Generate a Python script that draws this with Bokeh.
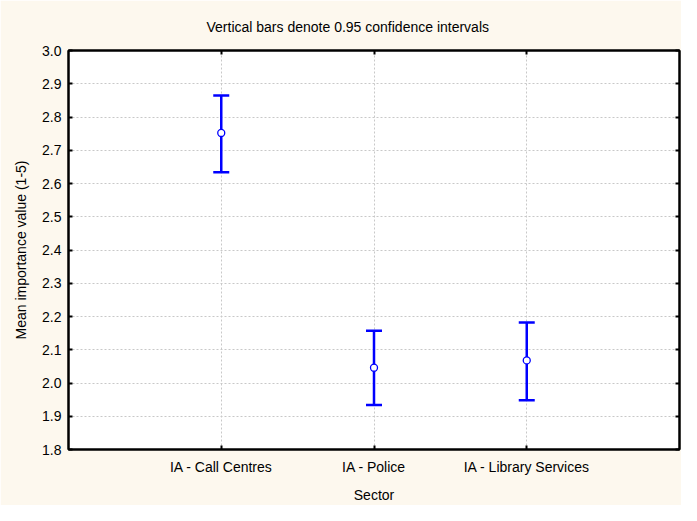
from bokeh.plotting import figure
from bokeh.models import (ColumnDataSource, Whisker, TeeHead, FixedTicker, LinearAxis,
                          Range1d, NumeralTickFormatter)
from bokeh.embed import file_html
from bokeh.resources import INLINE

# ---- data ----
sectors = ["IA - Call Centres", "IA - Police", "IA - Library Services"]
means = [2.752, 2.046, 2.068]
upper = [2.865, 2.157, 2.182]
lower = [2.634, 1.934, 1.948]
y_ticks = [1.8, 1.9, 2.0, 2.1, 2.2, 2.3, 2.4, 2.5, 2.6, 2.7, 2.8, 2.9, 3.0]
title_text = "Vertical bars denote 0.95 confidence intervals"

xpos = list(range(1, len(sectors) + 1))
src = ColumnDataSource(dict(x=xpos, mean=means, upper=upper, lower=lower))

FONT = "Liberation Sans"
FS = "14px"
BG = "#FDF8EE"
BLUE = "#0000FF"

W, H = 681, 505
BL, BR, BT, BB = 68, 2, 50, 51

p = figure(width=W, height=H, output_backend="svg", toolbar_location=None,
           x_range=Range1d(0, len(sectors) + 1), y_range=Range1d(y_ticks[0], y_ticks[-1]),
           min_border_left=BL, min_border_right=BR, min_border_top=BT, min_border_bottom=BB,
           background_fill_color="white", border_fill_color=BG,
           title=title_text)

p.title.text_font = FONT
p.title.text_font_size = FS
p.title.text_font_style = "normal"
p.title.text_color = "black"
p.title.align = "left"
p.title.offset = 138
p.title.vertical_align = "middle"
p.title.standoff = 30

p.outline_line_color = "black"
p.outline_line_width = 2

# bottom axis
xa = p.xaxis[0]
xa.ticker = FixedTicker(ticks=xpos)
xa.major_label_overrides = {x: s for x, s in zip(xpos, sectors)}
xa.axis_label = "Sector"
# left axis
ya = p.yaxis[0]
ya.ticker = FixedTicker(ticks=y_ticks)
ya.formatter = NumeralTickFormatter(format="0.0")
ya.axis_label = "Mean importance value (1-5)"

for ax in (xa, ya):
    ax.axis_line_color = "black"
    ax.axis_line_width = 2
    ax.major_tick_in = 4
    ax.major_tick_out = 0
    ax.major_tick_line_width = 2
    ax.minor_tick_line_color = None
    ax.major_label_text_font = FONT
    ax.major_label_text_font_size = FS
    ax.major_label_text_color = "black"
    ax.axis_label_text_font = FONT
    ax.axis_label_text_font_size = FS
    ax.axis_label_text_font_style = "normal"
    ax.axis_label_text_color = "black"
xa.major_label_standoff = 9
xa.axis_label_standoff = 9
ya.major_label_standoff = 7
ya.axis_label_standoff = 10

# mirrored axes (ticks only)
top = LinearAxis(ticker=FixedTicker(ticks=xpos))
right = LinearAxis(ticker=FixedTicker(ticks=y_ticks))
for ax in (top, right):
    ax.major_label_text_font_size = "0px"
    ax.major_label_text_alpha = 0
    ax.major_label_standoff = 0
    ax.axis_line_color = "black"
    ax.axis_line_width = 2
    ax.major_tick_in = 4
    ax.major_tick_out = 0
    ax.major_tick_line_width = 2
    ax.minor_tick_line_color = None
p.add_layout(top, "above")
p.add_layout(right, "right")

# grids
p.xgrid.ticker = FixedTicker(ticks=xpos)
p.ygrid.ticker = FixedTicker(ticks=y_ticks)
for g in (p.xgrid, p.ygrid):
    g.grid_line_color = "#c8c8c8"
    g.grid_line_dash = "2 2"
    g.grid_line_width = 1

# error bars
wh = Whisker(source=src, base="x", upper="upper", lower="lower", dimension="height",
             line_color=BLUE, line_width=2.5,
             upper_head=TeeHead(size=16, line_color=BLUE, line_width=2.5),
             lower_head=TeeHead(size=16, line_color=BLUE, line_width=2.5))
p.add_layout(wh)

p.scatter("x", "mean", source=src, marker="circle", size=7,
          fill_color="white", line_color=BLUE, line_width=1.3)

open("out.html", "w").write(file_html(p, INLINE))
